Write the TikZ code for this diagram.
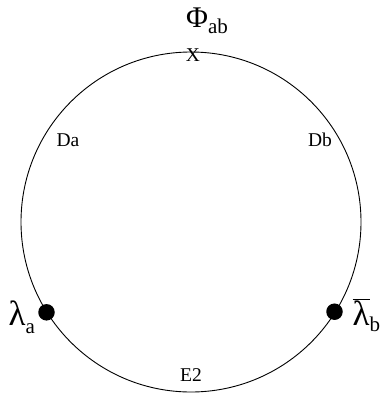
\documentclass[tikz,border=0pt]{standalone}
\usepackage{fontspec}
\setmainfont{Liberation Serif}
\begin{document}
\begin{tikzpicture}[x=1pt,y=-1pt,
  ring/.style={draw=black,line width=0.9pt,circle,inner sep=0pt,minimum size=340pt},
  dotmark/.style={circle,fill=black,inner sep=0pt,minimum size=16.5pt},
  lbl/.style={inner sep=0pt,font=\fontsize{19.5}{19.5}\selectfont},
  big/.style={inner sep=0pt,anchor=base west,font=\fontsize{30}{30}\selectfont},
  lam/.style={inner sep=0pt,anchor=base west,font=\fontsize{35}{35}\selectfont}]
\useasboundingbox (0,0) rectangle (383,394);
\node[ring] (c) at (191,222) {};
\node[dotmark] (la) at (46.5,312.3) {};
\node[dotmark] (lb) at (334.5,311.7) {};
\node[big] (phi) at (186,27) {Φ\raisebox{-6pt}{\fontsize{21}{21}\selectfont ab}};
\node[lam] (lama) at (8.5,325) {λ\raisebox{-8pt}{\fontsize{21}{21}\selectfont a}};
\node[lam] (lamb) at (352.5,325) {$\overline{\hbox{λ}}$\raisebox{-6pt}{\fontsize{21}{21}\selectfont b}};
\node[lbl] (x) at (193,55) {X};
\node[lbl] (da) at (68,140) {Da};
\node[lbl] (db) at (320,140) {Db};
\node[lbl] (e2) at (191,375.5) {E2};
\end{tikzpicture}
\end{document}
